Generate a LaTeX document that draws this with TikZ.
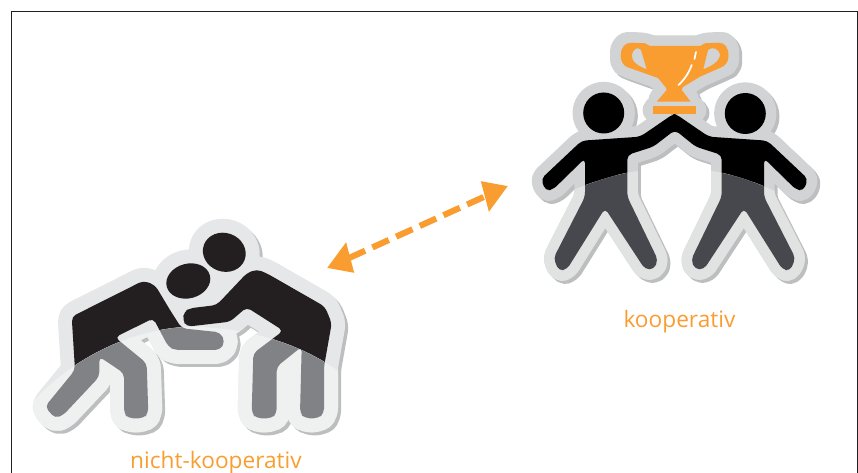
\documentclass[tikz,border=0pt]{standalone}
\usepackage{fontspec}
\setmainfont{Open Sans}
\usepackage{tikz}
\usetikzlibrary{arrows.meta}
\definecolor{frameLine}{RGB}{35, 31, 32}
\definecolor{orangeAcc}{RGB}{250, 157, 48}
\definecolor{shadowBg}{RGB}{188, 190, 192}
\definecolor{haloA}{RGB}{230, 231, 232}
\definecolor{haloAlow}{RGB}{239, 240, 240}
\definecolor{haloB}{RGB}{209, 211, 212}
\definecolor{haloBlow}{RGB}{225, 227, 226}
\definecolor{bodyA}{RGB}{35, 31, 32}
\definecolor{bodyAlow}{RGB}{128, 130, 133}
\definecolor{bodyBlow}{RGB}{71, 72, 77}

% outlines of the two stickers
\newcommand{\wrestlerShapes}{
  (71.7,316.7) -- (143.3,280.7) -- (155,285) -- (170,310) -- (181.7,328.3) -- (220,332.3)
  -- (225,341.7) -- (220,350) -- (175,350) -- (168.3,346.7) -- (153.3,318.3) -- (115,337.3)
  -- (146.7,363.3) -- (148.3,413.3) -- (143.3,418.3) -- (128.3,418.3) -- (124,413.3)
  -- (124,373.3) -- (99.3,356.7) -- (99.3,376.7) -- (63.3,415) -- (55,418.3) -- (45,406.7)
  -- (75,370) -- cycle
  (256.7,269.3) -- (266.7,273.3) -- (325,306.7) -- (331.7,323.3) -- (324,366.7)
  -- (324,413.3) -- (318.3,418.3) -- (305,418.3) -- (300,413.3) -- (301.7,346.7)
  -- (276.7,366.7) -- (276.7,413.3) -- (271.7,418.3) -- (256.7,418.3) -- (251.7,413.3)
  -- (253.3,353.3) -- (283.3,330.7) -- (246.7,307.3) -- (230,321.7) -- (186.7,326.7)
  -- (182.7,320) -- (184,311.7) -- (190,308.3) -- (216.7,305) -- (246.7,273.3) -- cycle
  (224.3,252.3) ellipse [x radius=21.7, y radius=19.3, rotate=-20]
  (188.3,281) ellipse [x radius=22.3, y radius=17.3, rotate=15]
}
\newcommand{\partnerShapes}{
  (581.7,140.7) -- (541,179) -- (545.7,191) -- (553.3,189.3) -- (585,158.3) -- (585,196.7)
  -- (553.5,258.3) -- (559,271) -- (567,269.3) -- (605,208.3) -- (645,269.3) -- (654,269.3)
  -- (658,260) -- (627.3,196.7) -- (627.3,155) -- (653.3,146.7) -- (675,130)
  -- (695.7,146.7) -- (721.7,155) -- (721.7,196.7) -- (691,260) -- (695,269.3)
  -- (704,269.3) -- (744,208.3) -- (782.3,269.3) -- (790,271) -- (795.5,258.3) -- (764,196.7)
  -- (764,158.3) -- (795.7,189.3) -- (803.3,191) -- (808,179) -- (767.3,140.7)
  -- (709,136.7) -- (699,130) -- (675.7,114) -- (673.3,114) -- (650,130) -- (640,136.7) -- cycle
  (603.7,113) circle [radius=20.5]
  (745.3,113.5) circle [radius=20.5]
}
\newcommand{\trophyShape}{
  (620.7,56) .. controls (620.7,47) and (625,42.7) .. (632,42.7) -- (645,43.3) -- (650,46)
  -- (700,46) -- (705,43.3) -- (718,42.7) .. controls (725,42.7) and (728.5,47) .. (728.5,56)
  .. controls (728.5,61) and (726,65) .. (722,67) -- (700,76.7) -- (683,87)
  -- (681.7,90) -- (690.7,101.7) -- (656.7,101.7) -- (666.7,90) -- (665.5,87) -- (658,78)
  -- (627,67) .. controls (623,65) and (620.7,61) .. (620.7,56) -- cycle
}

\tikzset{
  stickerHalo/.style={rounded corners=3.5pt, line join=round, line width=21pt, draw=#1, fill=#1},
  stickerTrim/.style={rounded corners=3.5pt, line join=round, line width=16pt, draw=#1, fill=#1},
  stickerBody/.style={rounded corners=3.5pt, fill=#1},
  stickerLabel/.style={anchor=base, text=orangeAcc, font=\fontsize{17}{20}\selectfont, inner sep=0pt}
}

\begin{document}
\begin{tikzpicture}[x=0.75pt, y=-0.75pt, >={Triangle[angle=60:22pt, slant=0.17]}]
  \useasboundingbox (0,0) rectangle (858,473);
  \draw[frameLine, line width=0.7pt] (11,473) -- (11,11) -- (857,11) -- (857,473);

  % wrestlers
  \path[stickerHalo=shadowBg, shift={(3,3)}] \wrestlerShapes;
  \path[stickerHalo=haloA] \wrestlerShapes;
  \path[stickerBody=bodyA] \wrestlerShapes;
  \begin{scope}
    \clip (25,410) .. controls (90,335) and (170,325) .. (200,327)
      .. controls (270,330) and (320,355) .. (350,380) -- (350,450) -- (25,450) -- cycle;
    \path[stickerHalo=haloAlow] \wrestlerShapes;
    \path[stickerBody=bodyAlow] \wrestlerShapes;
  \end{scope}

  % partners with the cup
  \path[stickerTrim=shadowBg, shift={(3,3)}] \trophyShape (653.3,106) rectangle (695.7,114.3);
  \path[stickerTrim=shadowBg, shift={(3,3)}] \partnerShapes;
  \path[stickerTrim=haloB] \trophyShape (653.3,106) rectangle (695.7,114.3);
  \path[stickerTrim=haloB] \partnerShapes;
  \path[stickerBody=black] \partnerShapes;
  \begin{scope}
    \clip (573,190) .. controls (610,175) and (640,168) .. (674,168)
      .. controls (710,168) and (740,175) .. (777,192) -- (815,250) -- (815,290) -- (535,290)
      -- (535,250) -- cycle;
    \path[stickerTrim=haloBlow] \partnerShapes;
    \path[stickerBody=bodyBlow] \partnerShapes;
  \end{scope}
  \fill[orangeAcc, even odd rule] \trophyShape
    (631.7,55) .. controls (633,49) and (638,46) .. (641,50) -- (646.7,69.3)
      .. controls (640,67) and (631,62) .. (631.7,55) -- cycle
    (720,54) .. controls (719,49) and (712,46) .. (708,50) -- (703.3,69.3)
      .. controls (709,67) and (720.5,62) .. (720,54) -- cycle;
  \fill[orangeAcc] (653.3,106) rectangle (695.7,114.3);
  \draw[white, line width=1.3pt, line cap=round] (696,52) -- (694.5,59);
  \draw[white, line width=1.3pt, line cap=round] (691.7,65) .. controls (689,73) and (684,80) .. (678.5,85);

  \node[stickerLabel] (nonCoop) at (216,469) {nicht-kooperativ};
  \node[stickerLabel] (coop) at (679.5,328) {kooperativ};

  \coordinate (arrowLeft) at (327,268);
  \coordinate (arrowRight) at (508,186);
  \draw[<->, orangeAcc, line width=4.6pt, dash pattern=on 13.5pt off 6pt] (arrowLeft) -- (arrowRight);
\end{tikzpicture}
\end{document}
